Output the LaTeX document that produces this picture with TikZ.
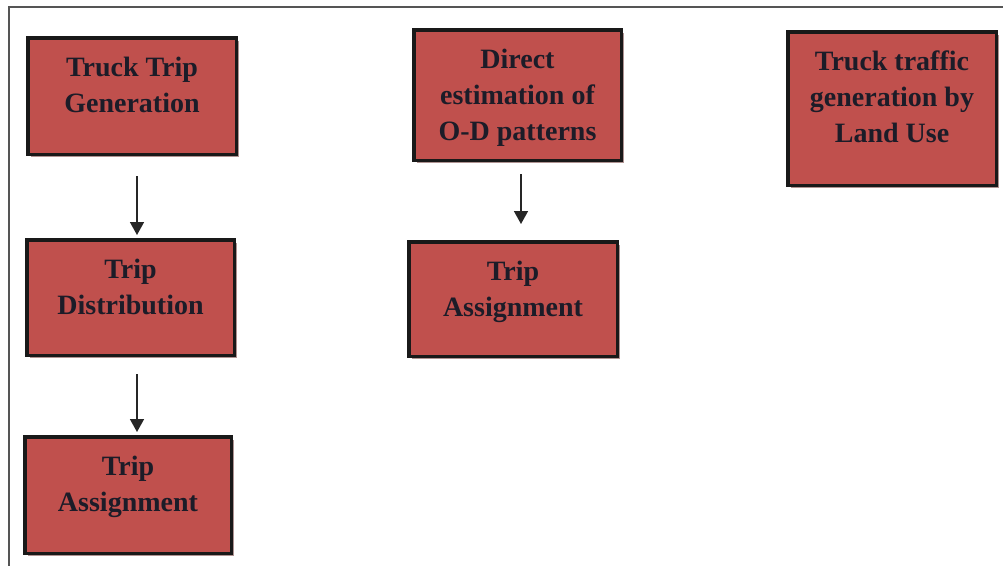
\documentclass[tikz,border=0pt]{standalone}
\usepackage{fontspec}
\setmainfont{Liberation Serif}
\usetikzlibrary{arrows.meta,shadows}

\definecolor{boxred}{HTML}{C0504D}
\definecolor{boxtext}{HTML}{1C1C28}
\definecolor{framegray}{HTML}{555555}

% box text: top-aligned lines inside a fixed-height parbox
\newcommand{\boxlines}[2]{%
  \parbox[c][#1][t]{205pt}{\centering\fontsize{28}{36}\selectfont\bfseries
    \rule{0pt}{38.5pt}#2}}

\tikzset{
  stagebox/.style={draw=black!90, line width=3.5pt, fill=boxred,
    inner sep=0pt, text=boxtext,
    drop shadow={shadow xshift=3pt, shadow yshift=-3pt,
      fill=black!50!boxred, opacity=0.5}},
  flowarrow/.style={draw=black!85, line width=1.6pt,
    -{Triangle[width=14pt,length=13pt]}}
}

\begin{document}
\begin{tikzpicture}[x=1pt,y=-1pt]
  \useasboundingbox (0,0) rectangle (1003,566);

  % outer frame (top and left edges)
  \draw[framegray, line width=1.4pt] (1003,7) -- (9,7) -- (9,566);

  % left column
  \node[stagebox, minimum width=208.5pt] (gen) at (132,96)
    {\boxlines{116.5pt}{Truck Trip\\Generation}};
  \node[stagebox, minimum width=207.5pt] (dist) at (130.5,297.5)
    {\boxlines{115.5pt}{Trip\\Distribution}};
  \node[stagebox, minimum width=206.5pt] (assignA) at (128,495)
    {\boxlines{116.5pt}{Trip\\Assignment}};

  % middle column
  \node[stagebox, minimum width=207.5pt] (odest) at (517.5,95)
    {\boxlines{130.5pt}{Direct\\estimation of\\O-D patterns}};
  \node[stagebox, minimum width=208.5pt] (assignB) at (513,299)
    {\boxlines{114.5pt}{Trip\\Assignment}};

  % right column
  \node[stagebox, minimum width=208.5pt] (landuse) at (892,108.5)
    {\boxlines{153.5pt}{Truck traffic\\generation by\\Land Use}};

  % connectors
  \draw[flowarrow, shorten <=20pt, shorten >=3pt]
    ([xshift=5pt]gen.south) -- ([xshift=5pt]gen.south |- dist.north);
  \draw[flowarrow, shorten <=17pt, shorten >=3pt]
    ([xshift=6.5pt]dist.south) -- ([xshift=6.5pt]dist.south |- assignA.north);
  \draw[flowarrow, shorten <=12pt, shorten >=16pt]
    ([xshift=3.5pt]odest.south) -- ([xshift=3.5pt]odest.south |- assignB.north);
\end{tikzpicture}
\end{document}
